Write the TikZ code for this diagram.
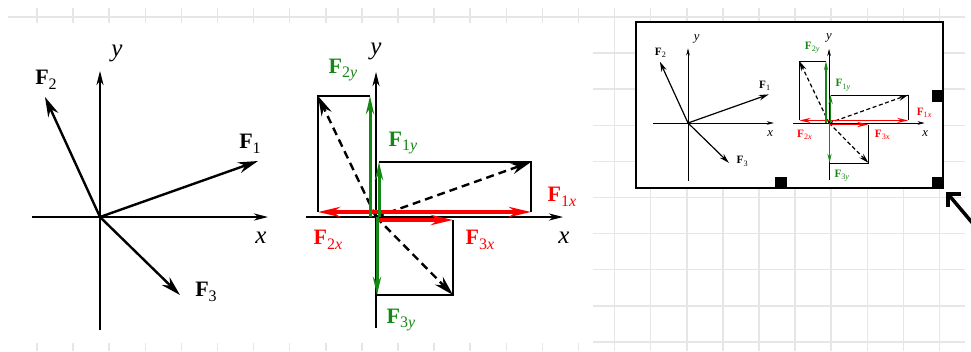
\documentclass[tikz,border=0pt]{standalone}
\usepackage{fontspec}
\setmainfont{Liberation Serif}
\usepackage{tikz}
\usetikzlibrary{arrows.meta, positioning}
\definecolor{gridgray}{RGB}{230,230,230}
\definecolor{compgreen}{RGB}{20,135,20}
\newcommand{\lw}{1}
\newcommand{\dashon}{8pt}
\newcommand{\dashoff}{5pt}
\newcommand{\Fsym}[1]{\textbf{F}\raisebox{-4.5pt}{\fontsize{16}{16}\selectfont #1}}
\tikzstyle{gridline} = [
    draw=gridgray, 
    line width=1.5pt
]
\tikzstyle{axis} = [
    line width=\lw*1.1pt, 
    -{Stealth[length=0pt 13, width=0pt 6.5]}
]
\tikzstyle{force} = [
    line width=\lw*2.4pt, 
    -{Stealth[length=0pt 8.3, width=0pt 4.6]}
]
\tikzstyle{dashforce} = [
    force, 
    dash pattern=on \dashon off \dashoff
]
\tikzstyle{redcomp} = [
    draw=red, 
    line width=\lw*3.5pt, 
    -{Stealth[length=0pt 6.3, width=0pt 2.9]}
]
\tikzstyle{greencomp} = [
    draw=compgreen, 
    line width=\lw*3pt, 
    -{Stealth[length=0pt 6, width=0pt 2.7]}
]
\tikzstyle{guide} = [
    line width=\lw*1.2pt
]
\tikzstyle{flabel} = [
    inner sep=0pt, 
    font=\fontsize{22}{22}\selectfont
]
\tikzstyle{axlabel} = [
    inner sep=0pt, 
    font=\fontsize{25}{25}\selectfont\itshape
]
\tikzstyle{thumbframe} = [
    rectangle, 
    draw=black, 
    fill=white, 
    line width=1.7pt, 
    inner sep=0pt
]
\tikzstyle{handle} = [
    rectangle, 
    fill=black, 
    minimum size=12pt, 
    inner sep=0pt
]
\tikzstyle{cursor} = [
    line width=3.5pt, 
    line join=miter
]
\newcommand{\forcepanels}[1]{%
    % Left panel: the forces
    \coordinate (#1O) at (100,217);
    \coordinate (#1xa) at (32,217);
    \coordinate (#1xb) at (268,217);
    \coordinate (#1ya) at (100,330);
    \coordinate (#1yb) at (100,71);
    \coordinate (#1F1) at (258,161);
    \coordinate (#1F2) at (45,97);
    \coordinate (#1F3) at (180,295);
    \draw [axis] (#1xa) -- (#1xb);
    \draw [axis] (#1ya) -- (#1yb);
    \draw [force] (#1O) -- (#1F1);
    \draw [force] (#1O) -- (#1F2);
    \draw [force] (#1O) -- (#1F3);
    \node (#1x) [axlabel] at (261,238) {x};
    \node (#1y) [axlabel] at (117,53) {y};
    \node (#1L1) [flabel] at (250,144) {\Fsym{1}};
    \node (#1L2) [flabel] at (46,80) {\Fsym{2}};
    \node (#1L3) [flabel] at (206,292) {\Fsym{3}};
    % Right panel: the components
    \coordinate (#1M) at (376,217);
    \coordinate (#1ua) at (306,217);
    \coordinate (#1ub) at (563,217);
    \coordinate (#1va) at (376,328);
    \coordinate (#1vb) at (376,72);
    \coordinate (#1P1) at (531,162);
    \coordinate (#1P2) at (318,96);
    \coordinate (#1P3) at (453,295);
    \coordinate (#1Mx) at (376,212);
    \coordinate (#1Mx3) at (376,220);
    \coordinate (#1X1) at (531,212);
    \coordinate (#1X2) at (318,212);
    \coordinate (#1X3) at (453,220);
    \coordinate (#1Y1a) at (379,217);
    \coordinate (#1Y2a) at (370,217);
    \coordinate (#1Y3a) at (377,217);
    \coordinate (#1Y1) at (379,162);
    \coordinate (#1Y2) at (370,96);
    \coordinate (#1Y3) at (377,295);
    \draw [axis] (#1ua) -- (#1ub);
    \draw [axis] (#1va) -- (#1vb);
    \draw [guide] (#1Y1) -- (#1P1) -- (#1X1);
    \draw [guide] (#1Y2) -- (#1P2) -- (#1X2);
    \draw [guide] (#1Y3) -- (#1P3) -- (#1X3);
    \draw [dashforce] (#1M) -- (#1P1);
    \draw [dashforce] (#1M) -- (#1P2);
    \draw [dashforce] (#1M) -- (#1P3);
    \draw [redcomp] (#1Mx) -- (#1X1);
    \draw [redcomp] (#1Mx) -- (#1X2);
    \draw [redcomp] (#1Mx3) -- (#1X3);
    \draw [greencomp] (#1Y1a) -- (#1Y1);
    \draw [greencomp] (#1Y2a) -- (#1Y2);
    \draw [greencomp] (#1Y3a) -- (#1Y3);
    \node (#1u) [axlabel] at (564,238) {x};
    \node (#1v) [axlabel] at (376,51) {y};
    \node (#1L1x) [flabel, text=red] at (562,197) {\Fsym{1\textit{x}}};
    \node (#1L2x) [flabel, text=red] at (328,240) {\Fsym{2\textit{x}}};
    \node (#1L3x) [flabel, text=red] at (480,240) {\Fsym{3\textit{x}}};
    \node (#1L1y) [flabel, text=compgreen] at (403,143) {\Fsym{1\textit{y}}};
    \node (#1L2y) [flabel, text=compgreen] at (343,70) {\Fsym{2\textit{y}}};
    \node (#1L3y) [flabel, text=compgreen] at (401,320) {\Fsym{3\textit{y}}};
}
\begin{document}
\begin{tikzpicture}[x=1pt, y=-1pt]
    \useasboundingbox (0,0) rectangle (971,351);
    \fill [white] (0,0) rectangle (971,351);

    % Grid
    \foreach \k in {0,...,25}
        \draw [gridline] ({37+36.1*\k},8) -- ({37+36.1*\k},351);
    \foreach \j in {0,...,9}
        \draw [gridline] (8,{17+36.1*\j}) -- (965,{17+36.1*\j});
    \fill [white] (0,23) rectangle (593,343);

    % Figure
    \forcepanels{a}

    % Thumbnail
    \node (thumb) [thumbframe, minimum width=307pt, minimum height=166pt] at (789.5,105) {};
    \begin{scope}[shift={(636.9,12.1)}, scale=0.511, transform shape]
        \renewcommand{\lw}{0.5}
        \renewcommand{\dashon}{4pt}
        \renewcommand{\dashoff}{2.6pt}
        \forcepanels{b}
    \end{scope}
    \node (hbot) [handle, anchor=south] at (781,189) {};
    \node (hcorner) [handle, anchor=south east] at (thumb.south east) {};
    \node (hright) [handle, anchor=south east] at ([yshift=87pt]thumb.south east) {};

    % Cursor
    \coordinate (ctip) at (948,194);
    \coordinate (cwing1) at (961,194);
    \coordinate (cwing2) at (948,207);
    \coordinate (ctail) at (980,232);
    \draw [cursor] (cwing1) -- (ctip) -- (cwing2);
    \draw [cursor] (ctip) -- (ctail);
    
\end{tikzpicture}
\end{document}
